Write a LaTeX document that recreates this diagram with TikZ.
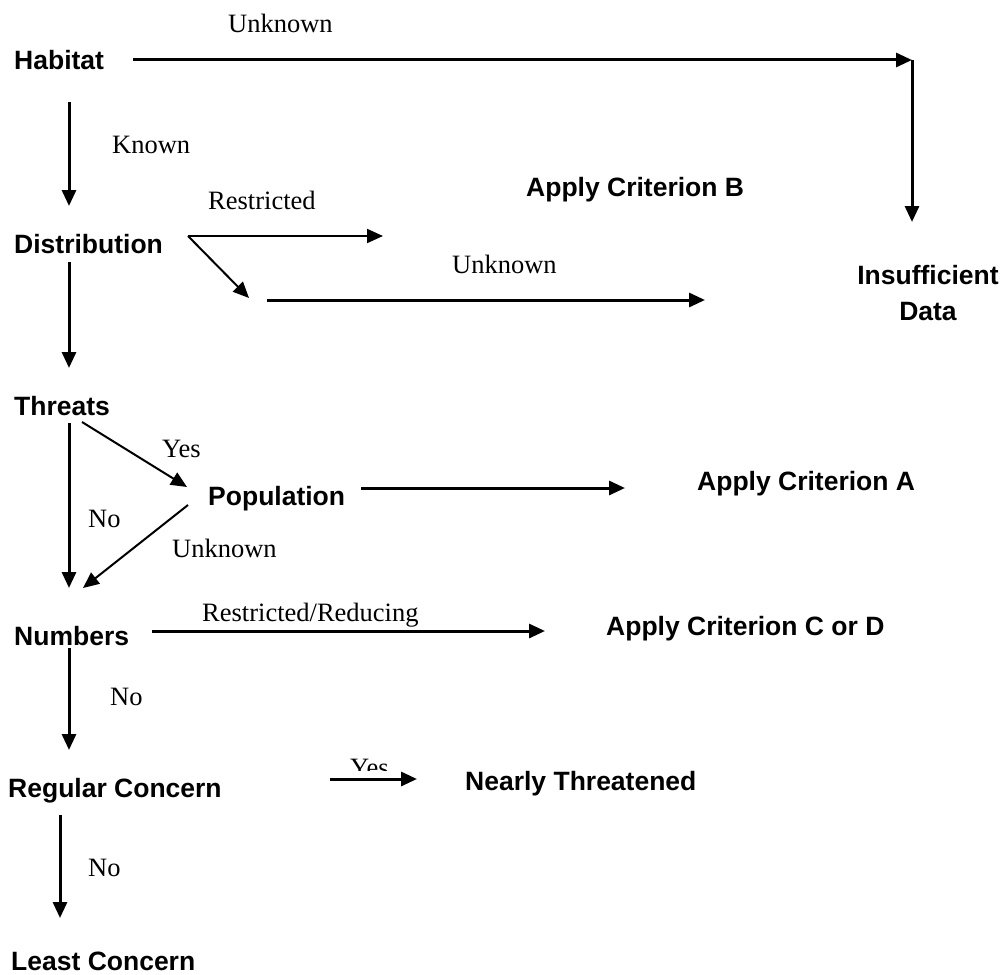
\documentclass[tikz,border=0pt]{standalone}
\usepackage{fontspec}
\setmainfont{Liberation Serif}
\setsansfont{Liberation Sans}
\usetikzlibrary{arrows.meta}
\tikzstyle{flowchart} = [x = 1pt, y = -1pt, every node/.style={inner sep = 0pt, anchor = base west}]
\tikzstyle{stepText} = [font=\fontsize{26.5}{36}\selectfont\sffamily\bfseries]
\tikzstyle{answerText} = [font=\fontsize{26.5}{32}\selectfont]
\tikzstyle{heavyArrow} = [line width = 3pt, -{Triangle[length=16pt, width=14pt]}]
\tikzstyle{lightArrow} = [line width = 2pt, -{Triangle[length=16pt, width=14pt]}]
\newcommand{\stepNode}[4]{\node [stepText] (#1) at (#2, #3) {#4};}
\newcommand{\answerLabel}[4]{\node [answerText] (#1) at (#2, #3) {#4};}
\newcommand{\branch}[3]{\draw [#1] (#2) -- (#3);}

\begin{document}
\begin{tikzpicture}[flowchart]
  \useasboundingbox (0, 0) rectangle (1003, 974);
  % steps
  \stepNode{habitat}{14}{70}{Habitat}
  \stepNode{distribution}{14}{253}{Distribution}
  \stepNode{threats}{14}{415}{Threats}
  \stepNode{population}{208}{505}{Population}
  \stepNode{numbers}{14}{645}{Numbers}
  \stepNode{regular}{8}{797}{Regular Concern}
  \stepNode{least}{11}{970}{Least Concern}
  % outcomes
  \stepNode{critB}{526}{196}{Apply Criterion B}
  \stepNode{critA}{697}{490}{Apply Criterion A}
  \stepNode{critCD}{606}{635}{Apply Criterion C or D}
  \stepNode{nearly}{465}{790}{Nearly Threatened}
  \node [stepText, align = center, anchor = center] (insufficient) at (928, 293.5) {Insufficient\\Data};
  % answers
  \answerLabel{habitatUnknown}{228}{33}{Unknown}
  \answerLabel{habitatKnown}{112}{153}{Known}
  \answerLabel{distRestricted}{208}{209}{Restricted}
  \answerLabel{distUnknown}{452}{273}{Unknown}
  \answerLabel{threatsYes}{162}{457}{Yes}
  \answerLabel{threatsNo}{88}{527}{No}
  \answerLabel{popUnknown}{172}{557}{Unknown}
  \answerLabel{numbersReducing}{202}{621}{Restricted/Reducing}
  \answerLabel{numbersNo}{110}{705}{No}
  \answerLabel{regularNo}{88}{876}{No}
  \begin{scope}
    \clip (340, 740) rectangle (400, 770);
    \answerLabel{regularYes}{350}{776}{Yes}
  \end{scope}
  % arrow ends
  \coordinate (habitatOut) at (133, 60);
  \coordinate (corner) at (912, 60);
  \coordinate (insufficientIn) at (912, 222);
  \coordinate (habitatDown) at (69, 102);
  \coordinate (distributionIn) at (69, 206);
  \coordinate (distributionOut) at (188, 236);
  \coordinate (restrictedEnd) at (383, 236);
  \coordinate (unknownTip) at (249, 298);
  \coordinate (unknownStart) at (267, 300);
  \coordinate (unknownEnd) at (705, 300);
  \coordinate (distributionDown) at (69, 262);
  \coordinate (threatsIn) at (69, 368);
  \coordinate (threatsDown) at (69, 423);
  \coordinate (numbersIn) at (69, 588);
  \coordinate (threatsYes) at (82, 422);
  \coordinate (populationIn) at (187, 487);
  \coordinate (populationDown) at (188, 505);
  \coordinate (numbersSide) at (83, 588);
  \coordinate (populationOut) at (361, 488);
  \coordinate (critAIn) at (625, 488);
  \coordinate (numbersOut) at (152, 631);
  \coordinate (critCDIn) at (545, 631);
  \coordinate (numbersDown) at (69, 648);
  \coordinate (regularIn) at (69, 750);
  \coordinate (regularOut) at (330, 779);
  \coordinate (nearlyIn) at (417, 779);
  \coordinate (regularDown) at (60, 815);
  \coordinate (leastIn) at (60, 918);
  % arrows
  \branch{heavyArrow}{habitatOut}{corner}
  \branch{heavyArrow}{corner}{insufficientIn}
  \branch{heavyArrow}{habitatDown}{distributionIn}
  \branch{lightArrow}{distributionOut}{restrictedEnd}
  \branch{lightArrow}{distributionOut}{unknownTip}
  \branch{heavyArrow}{unknownStart}{unknownEnd}
  \branch{heavyArrow}{distributionDown}{threatsIn}
  \branch{heavyArrow}{threatsDown}{numbersIn}
  \branch{lightArrow}{threatsYes}{populationIn}
  \branch{lightArrow}{populationDown}{numbersSide}
  \branch{heavyArrow}{populationOut}{critAIn}
  \branch{heavyArrow}{numbersOut}{critCDIn}
  \branch{heavyArrow}{numbersDown}{regularIn}
  \branch{heavyArrow}{regularOut}{nearlyIn}
  \branch{heavyArrow}{regularDown}{leastIn}
\end{tikzpicture}
\end{document}
